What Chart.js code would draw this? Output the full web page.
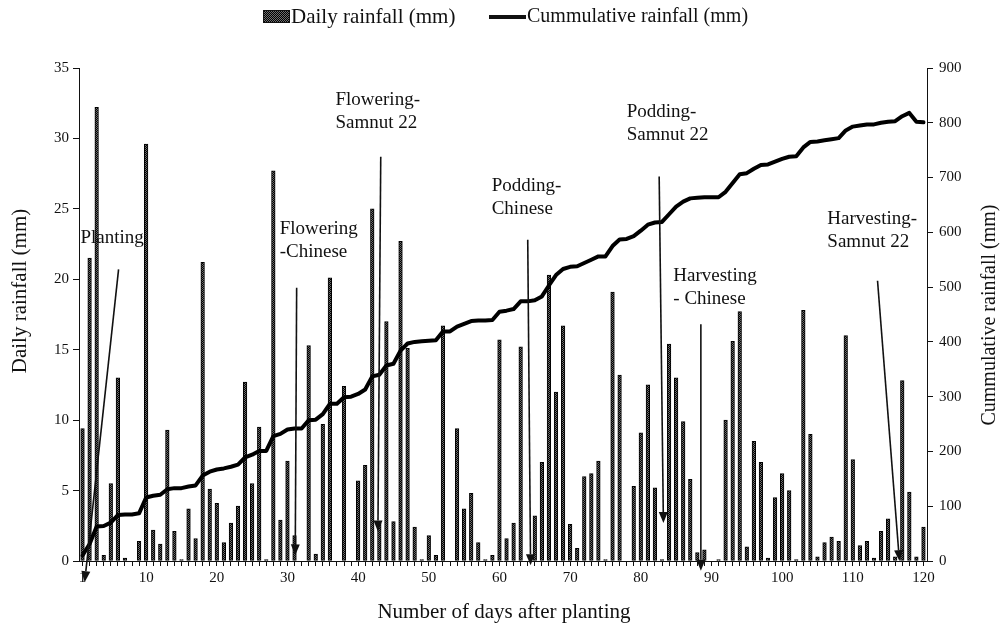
<!DOCTYPE html>
<html>
<head>
<meta charset="utf-8">
<script src="https://cdn.jsdelivr.net/npm/chart.js@4.4.1/dist/chart.umd.min.js"></script>
<style>
  html, body { margin: 0; padding: 0; background: #fff; }
  #wrap { width: 1008px; height: 630px; position: relative; }
</style>
</head>
<body>
<div id="wrap"><canvas id="rainChart" width="1008" height="630"></canvas></div>
<script>
// days after planting
const days = [];
for (let d = 1; d <= 120; d++) days.push(d);

const dailyRain = [
  9.4, 21.5, 32.2, 0.4, 5.5, 13.0, 0.2, 0, 1.4, 29.6,
  2.2, 1.2, 9.3, 2.1, 0.1, 3.7, 1.6, 21.2, 5.1, 4.1,
  1.3, 2.7, 3.9, 12.7, 5.5, 9.5, 0.1, 27.7, 2.9, 7.1,
  1.8, 0, 15.3, 0.5, 9.7, 20.1, 0, 12.4, 0, 5.7,
  6.8, 25.0, 2.7, 17.0, 2.8, 22.7, 15.1, 2.4, 0.1, 1.8,
  0.4, 16.7, 0, 9.4, 3.7, 4.8, 1.3, 0.1, 0.4, 15.7,
  1.6, 2.7, 15.2, 0, 3.2, 7.0, 20.3, 12.0, 16.7, 2.6,
  0.9, 6.0, 6.2, 7.1, 0.1, 19.1, 13.2, 0, 5.3, 9.1,
  12.5, 5.2, 0.1, 15.4, 13.0, 9.9, 5.8, 0.6, 0.8, 0,
  0.1, 10.0, 15.6, 17.7, 1.0, 8.5, 7.0, 0.2, 4.5, 6.2,
  5.0, 0.1, 17.8, 9.0, 0.3, 1.3, 1.7, 1.4, 16.0, 7.2,
  1.1, 1.4, 0.2, 2.1, 3.0, 0.3, 12.8, 4.9, 0.3, 2.4
];

const cumRain = [
  10, 31, 63, 64, 70, 84, 85, 85, 87, 116,
  119, 121, 131, 133, 133, 136, 138, 156, 163, 167,
  169, 172, 176, 189, 194, 201, 201, 228, 232, 240,
  242, 242, 257, 258, 268, 287, 287, 299, 300, 305,
  313, 337, 340, 357, 360, 384, 397, 400, 401, 402,
  403, 419, 419, 428, 433, 438, 439, 439, 440, 455,
  457, 460, 474, 474, 476, 483, 503, 522, 533, 537,
  538, 544, 550, 556, 556, 575, 587, 588, 593, 603,
  614, 618, 619, 633, 647, 656, 662, 663, 664, 664,
  664, 674, 690, 706, 708, 716, 723, 724, 729, 734,
  738, 739, 755, 765, 766, 768, 770, 772, 786, 793,
  795, 797, 797, 800, 802, 803, 812, 818, 802, 801
];

const leftTicks = [0, 5, 10, 15, 20, 25, 30, 35];
const rightTicks = [0, 100, 200, 300, 400, 500, 600, 700, 800, 900];

// growth stage notes: text anchor (day, mm) and arrow from/to (day, mm)
const stages = [
  { text: ['Planting'], at: [0.7, 22.9], from: [6.1, 20.7], to: [1.3, -1.5] },
  { text: ['Flowering', '-Chinese'], at: [28.9, 23.6], from: [31.3, 19.4], to: [31.1, 0.4] },
  { text: ['Flowering-', 'Samnut 22'], at: [36.8, 32.7], from: [43.2, 28.7], to: [42.8, 2.1] },
  { text: ['Podding-', 'Chinese'], at: [58.9, 26.6], from: [64.0, 22.8], to: [64.4, -0.3] },
  { text: ['Podding-', 'Samnut 22'], at: [78.0, 31.9], from: [82.6, 27.3], to: [83.2, 2.7] },
  { text: ['Harvesting', '- Chinese'], at: [84.6, 20.2], from: [88.5, 16.8], to: [88.5, -0.7] },
  { text: ['Harvesting-', 'Samnut 22'], at: [106.4, 24.3], from: [113.5, 19.9], to: [116.6, 0] }
];

const serif = '"Liberation Serif", "Times New Roman", serif';
const ink = '#111';

// dotted fill like the original bars
function makePattern() {
  const c = document.createElement('canvas');
  c.width = 2; c.height = 2;
  const g = c.getContext('2d');
  g.fillStyle = '#6e6e6e';
  g.fillRect(0, 0, 2, 2);
  g.fillStyle = '#000';
  g.fillRect(1, 0, 1, 1);
  g.fillRect(0, 1, 1, 1);
  return g.createPattern(c, 'repeat');
}
const barFill = makePattern();

function arrow(ctx, x1, y1, x2, y2) {
  const ang = Math.atan2(y2 - y1, x2 - x1);
  const len = 11, half = 4.5;
  const bx = x2 - len * Math.cos(ang), by = y2 - len * Math.sin(ang);
  ctx.beginPath();
  ctx.moveTo(x1, y1);
  ctx.lineTo(bx, by);
  ctx.lineWidth = 1.6;
  ctx.strokeStyle = ink;
  ctx.stroke();
  ctx.beginPath();
  ctx.moveTo(x2, y2);
  ctx.lineTo(bx + half * Math.sin(ang), by - half * Math.cos(ang));
  ctx.lineTo(bx - half * Math.sin(ang), by + half * Math.cos(ang));
  ctx.closePath();
  ctx.fillStyle = ink;
  ctx.fill();
}

const stagePlugin = {
  id: 'stages',
  afterDatasetsDraw(chart) {
    const ctx = chart.ctx;
    const xs = chart.scales.x, ys = chart.scales.y;
    ctx.save();
    ctx.font = '19px ' + serif;
    ctx.textAlign = 'left';
    ctx.textBaseline = 'middle';
    stages.forEach(s => {
      const tx = xs.getPixelForValue(s.at[0] - 1);
      const ty = ys.getPixelForValue(s.at[1]);
      ctx.fillStyle = ink;
      s.text.forEach((t, i) => ctx.fillText(t, tx, ty + i * 23));
      arrow(ctx,
        xs.getPixelForValue(s.from[0] - 1), ys.getPixelForValue(s.from[1]),
        xs.getPixelForValue(s.to[0] - 1), ys.getPixelForValue(s.to[1]));
    });
    ctx.restore();
  },
  afterDraw(chart) {
    const ctx = chart.ctx;
    ctx.save();
    ctx.fillStyle = ink;
    // legend
    ctx.font = '21px ' + serif;
    ctx.textBaseline = 'middle';
    ctx.textAlign = 'left';
    ctx.fillStyle = barFill;
    ctx.fillRect(263, 10, 27, 13);
    ctx.strokeStyle = ink;
    ctx.lineWidth = 1;
    ctx.strokeRect(263.5, 10.5, 26, 12);
    ctx.fillStyle = ink;
    ctx.fillText('Daily rainfall (mm)', 291, 17);
    ctx.beginPath();
    ctx.moveTo(489, 17);
    ctx.lineTo(526, 17);
    ctx.lineWidth = 4;
    ctx.stroke();
    ctx.font = '20px ' + serif;
    ctx.fillText('Cummulative rainfall (mm)', 527, 17);
    // axis titles
    ctx.font = '21px ' + serif;
    ctx.textAlign = 'center';
    ctx.fillText('Number of days after planting', 504, 612);
    ctx.save();
    ctx.translate(20, 291);
    ctx.rotate(-Math.PI / 2);
    ctx.fillText('Daily rainfall (mm)', 0, 0);
    ctx.restore();
    ctx.save();
    ctx.translate(990, 315);
    ctx.rotate(-Math.PI / 2);
    ctx.font = '20px ' + serif;
    ctx.fillText('Cummulative rainfall (mm)', 0, 0);
    ctx.restore();
    ctx.restore();
  }
};

const axisLook = {
  grid: { display: true, drawOnChartArea: false, drawTicks: true, tickLength: 6, color: ink, lineWidth: 1 },
  border: { display: true, color: ink, width: 1 }
};

new Chart(document.getElementById('rainChart').getContext('2d'), {
  type: 'bar',
  data: {
    labels: days,
    datasets: [
      {
        type: 'line',
        label: 'Cummulative rainfall (mm)',
        data: cumRain,
        yAxisID: 'y1',
        borderColor: '#000',
        borderWidth: 4,
        borderJoinStyle: 'round',
        borderCapStyle: 'round',
        pointRadius: 0,
        tension: 0,
        fill: false,
        order: 0
      },
      {
        type: 'bar',
        label: 'Daily rainfall (mm)',
        data: dailyRain,
        yAxisID: 'y',
        backgroundColor: barFill,
        borderColor: '#000',
        borderWidth: 1,
        borderSkipped: false,
        barThickness: 3.6,
        order: 1
      }
    ]
  },
  options: {
    responsive: false,
    animation: false,
    devicePixelRatio: 1,
    layout: { padding: { top: 68, left: 0, right: 0, bottom: 0 } },
    plugins: {
      legend: { display: false },
      tooltip: { enabled: false }
    },
    scales: {
      x: {
        type: 'category',
        offset: true,
        ...axisLook,
        grid: { ...axisLook.grid, tickLength: 5, offset: false },
        ticks: {
          autoSkip: false,
          maxRotation: 0,
          padding: 3,
          color: ink,
          font: { family: serif, size: 15 },
          callback: function (v, i) {
            const d = days[i];
            return (d === 1 || d % 10 === 0) ? String(d) : '';
          }
        },
        afterFit: s => { s.height = 69; }
      },
      y: {
        position: 'left',
        min: 0,
        max: 35,
        ...axisLook,
        afterBuildTicks: s => { s.ticks = leftTicks.map(v => ({ value: v })); },
        ticks: { padding: 4, color: ink, font: { family: serif, size: 15 } },
        afterFit: s => { s.width = 79; }
      },
      y1: {
        position: 'right',
        min: 0,
        max: 900,
        ...axisLook,
        afterBuildTicks: s => { s.ticks = rightTicks.map(v => ({ value: v })); },
        ticks: { padding: 6, color: ink, font: { family: serif, size: 15 } },
        afterFit: s => { s.width = 81; }
      }
    }
  },
  plugins: [stagePlugin]
});
</script>
</body>
</html>
